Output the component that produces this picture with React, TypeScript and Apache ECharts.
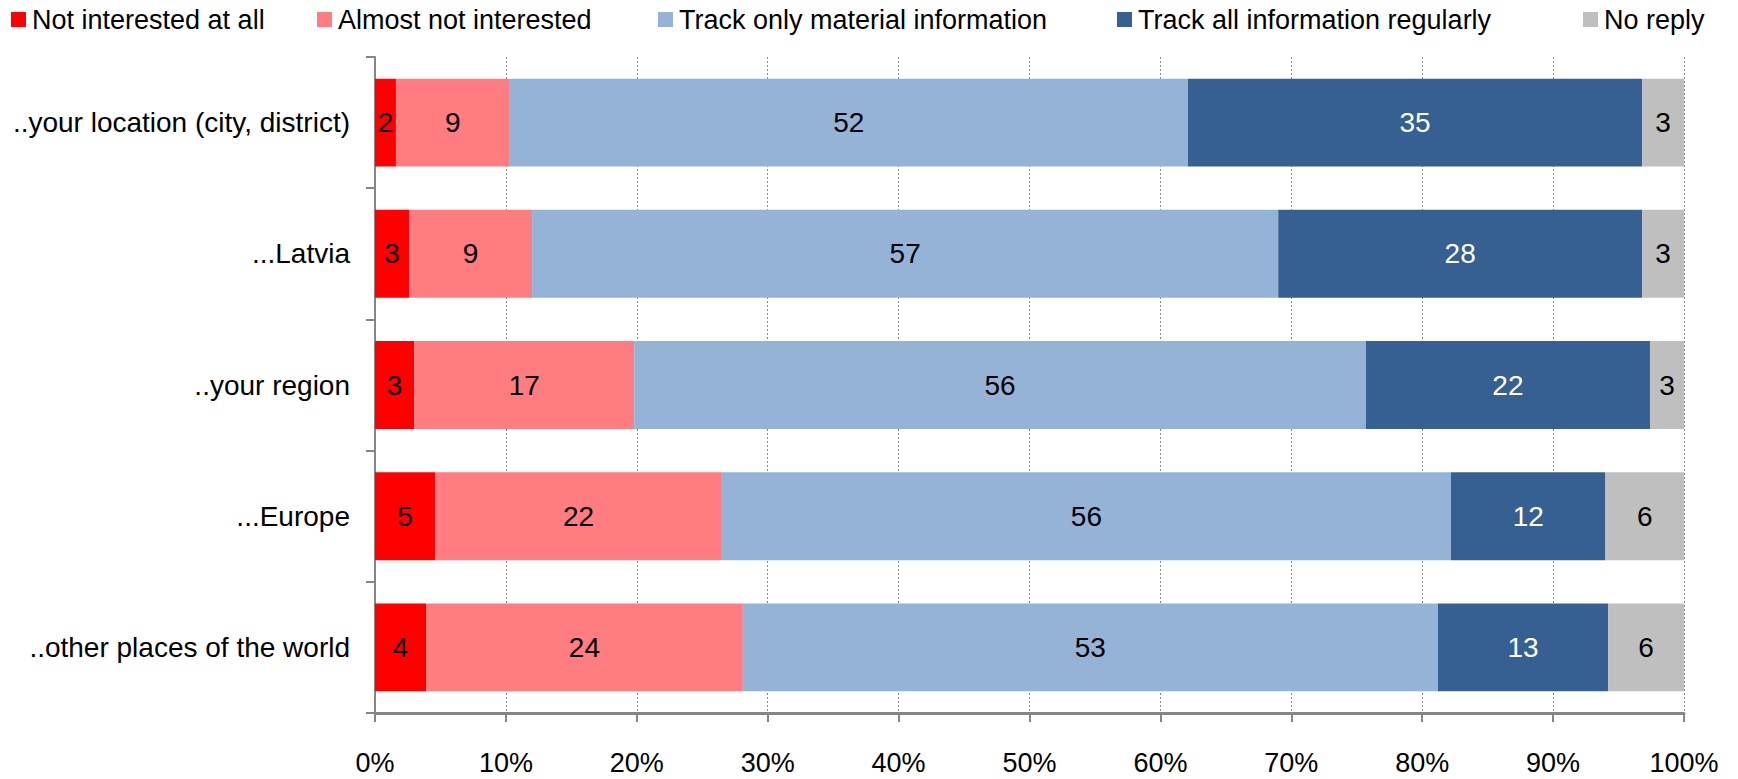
import React, { useEffect, useRef } from "react";
import * as echarts from "echarts";

const categories = [
  "..your location (city, district)",
  "...Latvia",
  "..your region",
  "...Europe",
  "..other places of the world",
];

const seriesNames = [
  "Not interested at all",
  "Almost not interested",
  "Track only material information",
  "Track all information regularly",
  "No reply",
];

const notInterested = [1.6, 2.6, 3.0, 4.6, 3.9];
const almostNot = [8.7, 9.4, 16.8, 21.9, 24.2];
const trackMaterial = [51.8, 57.0, 55.9, 55.7, 53.1];
const trackAll = [34.7, 27.8, 21.7, 11.8, 13.0];
const noReply = [3.2, 3.2, 2.6, 6.0, 5.8];

const xTicks = [0, 10, 20, 30, 40, 50, 60, 70, 80, 90, 100];

const colors = ["#FF0000", "#FF7C80", "#95B3D7", "#366092", "#BFBFBF"];
const labelColors = ["#000000", "#000000", "#000000", "#FFFFFF", "#000000"];
const legendLeft = [11, 317, 658, 1117, 1583];

const FONT = "'Liberation Sans', Arial, sans-serif";

export default function App() {
  const ref = useRef<HTMLDivElement>(null);
  useEffect(() => {
    document.body.style.margin = "0";
    const chart = echarts.init(ref.current!, null, { renderer: "svg" });
    const values = [notInterested, almostNot, trackMaterial, trackAll, noReply];
    const option: any = {
      animation: false,
      backgroundColor: "#ffffff",
      textStyle: { fontFamily: FONT },
      legend: seriesNames.map((n, i) => ({
        data: [n],
        left: legendLeft[i],
        top: 6,
        icon: "rect",
        itemWidth: 15,
        itemHeight: 15,
        padding: 0,
        textStyle: {
          fontFamily: FONT,
          fontSize: 27,
          color: "#000",
          padding: [0, 0, 0, 1],
        },
      })),
      grid: { left: 375, right: 54, top: 57, bottom: 66, containLabel: false },
      xAxis: {
        type: "value",
        min: xTicks[0],
        max: xTicks[xTicks.length - 1],
        interval: xTicks[1] - xTicks[0],
        axisLine: { show: true, lineStyle: { color: "#868686", width: 3 } },
        axisTick: { show: true, length: 9, lineStyle: { color: "#868686", width: 2 } },
        splitLine: { show: true, lineStyle: { color: "#868686", type: [2, 2], width: 1 } },
        axisLabel: {
          formatter: "{value}%",
          fontFamily: FONT,
          fontSize: 27,
          color: "#000",
          margin: 36,
        },
      },
      yAxis: {
        type: "category",
        data: categories,
        inverse: true,
        axisLine: { show: true, lineStyle: { color: "#868686", width: 2 } },
        axisTick: { show: true, length: 9, lineStyle: { color: "#868686", width: 2 } },
        axisLabel: {
          fontFamily: FONT,
          fontSize: 28,
          color: "#000",
          margin: 25,
        },
      },
      series: seriesNames.map((n, i) => ({
        name: n,
        type: "bar",
        stack: "total",
        barCategoryGap: "33%",
        data: values[i],
        itemStyle: { color: colors[i] },
        label: {
          show: true,
          position: "inside",
          fontFamily: FONT,
          fontSize: 28,
          color: labelColors[i],
          formatter: (p: any) => String(Math.round(p.value)),
        },
      })),
    };
    chart.setOption(option);
    return () => chart.dispose();
  }, []);
  return (
    <div
      ref={ref}
      style={{ position: "absolute", left: 0, top: 0, width: 1738, height: 779 }}
    />
  );
}
